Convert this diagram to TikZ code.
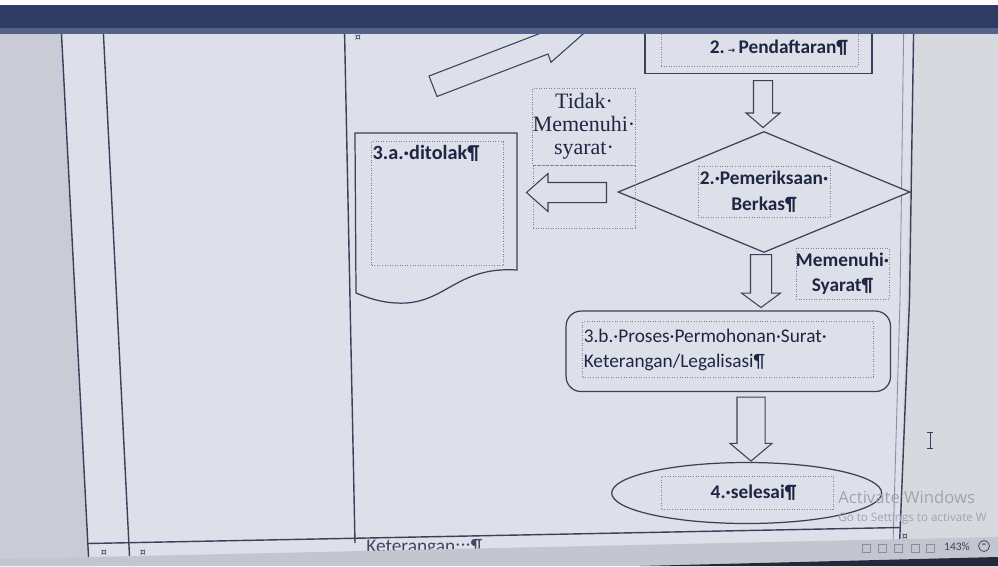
\documentclass[tikz,border=0pt]{standalone}
\usepackage{fontspec}
\setmainfont{Carlito}
\newfontfamily\hurufserif{Liberation Serif}
\newfontfamily\hurufsimbol{DejaVu Sans}
\newfontfamily\hurufwin{Open Sans}
\usetikzlibrary{shapes.geometric,shapes.arrows}

\definecolor{halaman}{HTML}{DDE0E8}
\definecolor{tepi}{HTML}{C9CCD4}
\definecolor{kanan}{HTML}{D7D9DF}
\definecolor{garis}{HTML}{39405C}
\definecolor{garismuda}{HTML}{8A90A2}
\definecolor{tinta}{HTML}{1E2644}
\definecolor{titik}{HTML}{7D8395}
\definecolor{pita}{HTML}{2F3B62}
\definecolor{pitamuda}{HTML}{56618A}
\definecolor{statusbar}{HTML}{C3C6CE}
\definecolor{gelap}{HTML}{23283A}
\definecolor{abu}{HTML}{A0A4AF}

\newcommand{\pxl}{0.02cm}

\tikzset{
  bentuk/.style={draw=garis, fill=halaman, line width=0.7pt, inner sep=0pt},
  kotakteks/.style={draw=titik, densely dotted, line width=0.45pt, inner sep=0pt, text=tinta, font=\fontsize{11}{14.7}\selectfont\bfseries},
  blokpanah/.style={single arrow, draw=garis, fill=halaman, line width=0.6pt, inner sep=0pt, anchor=tail},
  garistabel/.style={draw=garis, line width=0.8pt},
  tanda/.style={text=garis, font=\fontsize{7}{7}\selectfont, inner sep=0pt},
}

\begin{document}
\begin{tikzpicture}[x=\pxl, y=-\pxl]
	\useasboundingbox (0,0) rectangle (998,566);
	\clip (0,0) rectangle (998,566);

	% latar halaman
	\fill[halaman] (0,0) rectangle (998,566);
	\fill[tepi] (0,0) -- (60,0) -- (89,566) -- (0,566) -- cycle;
	\fill[kanan] (914,0) -- (998,0) -- (998,566) -- (899,566) -- cycle;

	% garis tabel
	\draw[garistabel] (60,5) -- (89,566);
	\draw[garistabel] (102,5) -- (130,566);
	\draw[garistabel] (344,5) -- (355,543);
	\draw[garismuda, line width=0.5pt] (904,5) -- (900,300) -- (893,545);
	\draw[garistabel] (914,5) -- (909.5,300) -- (899.5,545);
	\draw[garistabel] (88,543.5) -- (900,527.5);

	% panah miring di atas
	\draw[bentuk, line width=0.6pt] (429,76) -- (437,96.5) -- (548,54) -- (551,62.3) -- (593.6,24.7) -- (537,25) -- (540,33.4) -- cycle;

	% 2. Pendaftaran
	\node[bentuk, minimum width=4.54cm, minimum height=1.27cm] (daftarluar) at (758.5,41.7) {};
	\node[kotakteks, minimum width=3.94cm, minimum height=0.77cm, text width=3.54cm, inner xsep=0.2cm, align=right] (daftar) at (759.5,47.5) {2.\,{\hurufsimbol\tiny →}\,Pendaftaran¶};

	% 2. Pemeriksaan Berkas
	\node[bentuk, diamond, minimum width=5.84cm, minimum height=2.42cm] (periksa) at (764,192) {};
	\node[kotakteks, minimum width=2.64cm, minimum height=1.03cm, align=center] (periksateks) at (764,191.7) {2.·Pemeriksaan·\\Berkas¶};

	% Tidak Memenuhi syarat
	\node[kotakteks, minimum width=2.04cm, minimum height=1.26cm] (kosong) at (584,196.5) {};
	\node[kotakteks, minimum width=2.04cm, minimum height=1.54cm, align=center, font=\hurufserif\fontsize{12.5}{13.2}\selectfont] (tidak) at (584,126.5) {Tidak·\\Memenuhi·\\syarat·};

	% 3.a. ditolak
	\draw[bentuk] (355,133) -- (517,133) -- (517,270) .. controls (455,266) and (445,306) .. (396,303) .. controls (378,302) and (366,297) .. (356,293) -- cycle;
	\node[kotakteks, minimum width=2.63cm, minimum height=2.48cm] (tolakkotak) at (437.5,203.7) {};
	\node[anchor=north west, inner xsep=0.02cm, inner ysep=0.08cm, text=tinta, font=\fontsize{11.5}{14}\selectfont\bfseries] (tolak) at (tolakkotak.north west) {3.a.·ditolak¶};

	% Memenuhi Syarat
	\node[kotakteks, minimum width=1.86cm, minimum height=1.02cm, align=center] (syarat) at (842.5,273.8) {Memenuhi·\\Syarat¶};

	% 3.b. Proses
	\node[bentuk, rounded corners=0.3cm, minimum width=6.49cm, minimum height=1.61cm] (prosesluar) at (728.3,351.3) {};
	\node[kotakteks, minimum width=5.81cm, minimum height=1.11cm, text width=5.77cm, inner xsep=0.02cm, align=left, font=\fontsize{11}{14.2}\selectfont] (proses) at (728,349.5) {3.b.·Proses·Permohonan·Surat·\\Keterangan/Legalisasi¶};

	% 4. selesai
	\node[bentuk, ellipse, minimum width=5.4cm, minimum height=1.22cm] (selesailuar) at (746.7,493) {};
	\node[kotakteks, minimum width=3.43cm, minimum height=0.66cm] (selesai) at (747.5,492.5) {\hspace*{0.24cm}4.·selesai¶};

	% panah blok
	\node[blokpanah, rotate=-90, minimum height=0.94cm, inner ysep=0.18cm, single arrow head extend=0.15cm, single arrow tip angle=99] (panah1) at (763,80) {};
	\node[blokpanah, rotate=180, minimum height=1.6cm, inner ysep=0.19cm, single arrow head extend=0.18cm, single arrow tip angle=83] (panah2) at (607,192.5) {};
	\node[blokpanah, rotate=-90, minimum height=1.06cm, inner ysep=0.2cm, single arrow head extend=0.18cm, single arrow tip angle=107] (panah3) at (761,254) {};
	\node[blokpanah, rotate=-90, minimum height=1.28cm, inner ysep=0.27cm, single arrow head extend=0.14cm, single arrow tip angle=100] (panah4) at (751,396.5) {};

	% tanda sel
	\node[tanda] (sel1) at (358,38) {¤};
	\node[tanda] (sel2) at (104,553) {¤};
	\node[tanda] (sel3) at (143,553) {¤};
	\node[tanda] (sel4) at (905,537) {¤};

	\node[anchor=base west, inner sep=0pt, text=tinta!85, font=\fontsize{11}{11}\selectfont] (ket) at (366,552) {Keterangan:::¶};

	% pita atas
	\fill[pita] (0,5) rectangle (998,28);
	\fill[pitamuda] (0,28) rectangle (998,34);
	\fill[white] (0,0) rectangle (998,5);

	% bilah status
	\fill[statusbar] (0,559) -- (998,537) -- (998,566) -- (0,566) -- cycle;
	\fill[gelap] (640,566) -- (998,557) -- (998,566) -- cycle;
	\foreach \x [count=\i] in {866,882,898,915,930}
		\node[draw=garis!60, minimum size=0.16cm, inner sep=0pt] (ikon\i) at (\x,548) {};
	\node[inner sep=0pt, text=garis, font=\fontsize{6.5}{6.5}\selectfont] (zoom) at (957,547) {143\%};
	\node[circle, draw=garis, minimum size=0.22cm, inner sep=0pt, font=\fontsize{6}{6}\selectfont] (kecil) at (984,546) {--};

	% tanda air
	\node[anchor=base west, inner sep=0pt, text=abu, font=\hurufwin\fontsize{9.5}{9.5}\selectfont] (aktif) at (838,503) {Activate Windows};
	\node[anchor=base west, inner sep=0pt, text=abu, font=\hurufwin\fontsize{6.6}{6.6}\selectfont] (aktif2) at (838,521.7) {Go to Settings to activate W};

	% kursor
	\draw[garis, line width=0.5pt] (930,432) -- (930,448) (927,432) -- (933,432) (927,448) -- (933,448);
\end{tikzpicture}
\end{document}
